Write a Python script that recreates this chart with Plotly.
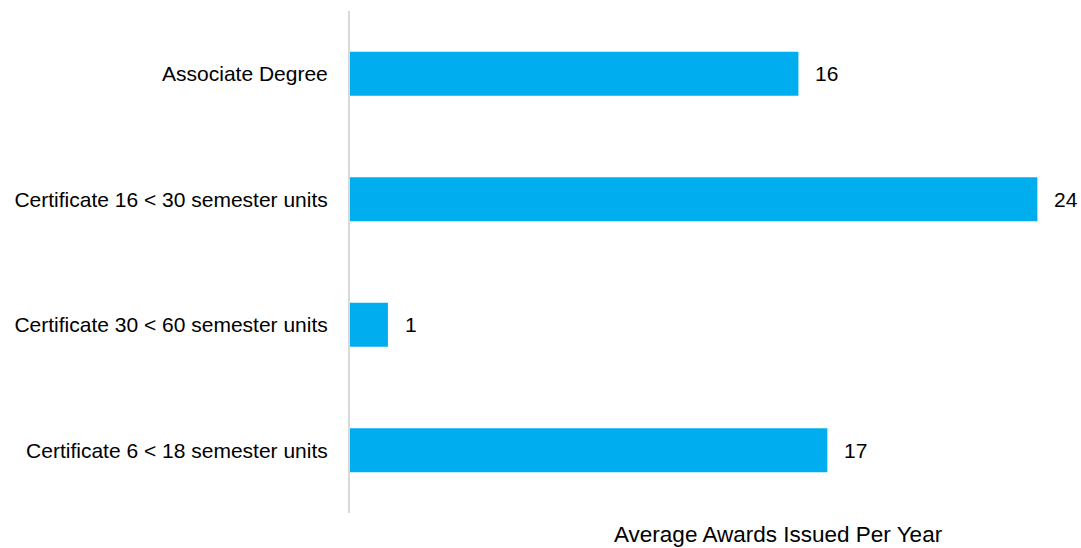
import plotly.graph_objects as go

categories = [
    "Associate Degree",
    "Certificate 16 < 30 semester units",
    "Certificate 30 < 60 semester units",
    "Certificate 6 < 18 semester units",
]
values = [15.97, 24.48, 1.35, 17.0]
labels = ["16", "24", "1", "17"]
bar_color = "#00AEEF"
font_family = "Liberation Sans, Arial, sans-serif"

fig = go.Figure()
fig.add_trace(go.Bar(
    y=categories,
    x=values,
    orientation="h",
    marker=dict(color=bar_color, line=dict(width=0)),
    width=0.35,
    hoverinfo="skip",
))

for c, v, t in zip(categories, values, labels):
    fig.add_annotation(x=v, y=c, text=t, showarrow=False, xanchor="left",
                       xshift=15, font=dict(size=21, color="#000000", family=font_family))

fig.add_annotation(text="Average Awards Issued Per Year", xref="paper", yref="paper",
                   x=0.610, y=-0.0438, xanchor="center", yanchor="middle", showarrow=False,
                   font=dict(size=22.5, color="#000000", family=font_family))

fig.update_layout(
    width=1081, height=548,
    margin=dict(l=350, r=29, t=11, b=35, autoexpand=False),
    paper_bgcolor="white", plot_bgcolor="white",
    showlegend=False,
    font=dict(family=font_family, size=21, color="#000000"),
    xaxis=dict(range=[0, 25], showgrid=False, zeroline=False, showticklabels=False,
               showline=False, fixedrange=True),
    yaxis=dict(categoryorder="array", categoryarray=categories, autorange="reversed",
               showgrid=False, zeroline=False, showline=True, linecolor="#D9D9D9",
               linewidth=2, ticks="", ticklabelstandoff=16, fixedrange=True,
               tickfont=dict(size=21, color="#000000", family=font_family)),
)

fig.write_html("out.html", config={"displayModeBar": False},
               post_script="document.body.style.margin='0';document.body.style.overflow='hidden';")
